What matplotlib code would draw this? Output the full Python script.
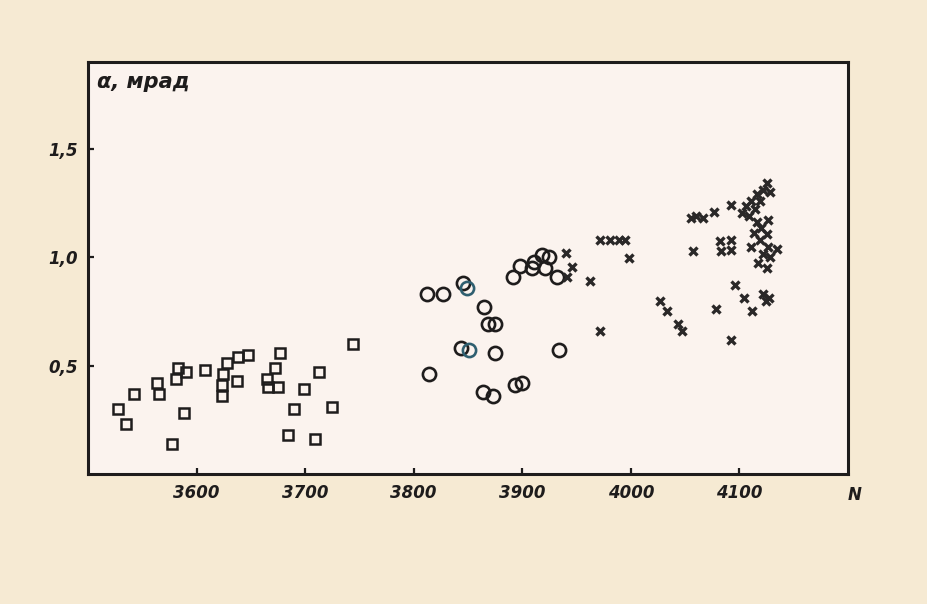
import matplotlib
matplotlib.use("Agg")
import matplotlib.pyplot as plt

# Angle alpha (mrad) versus N for three groups of measurements
squares_N = [3528, 3535, 3542, 3564, 3565, 3577, 3583, 3581, 3590, 3588,
             3608, 3628, 3624, 3623, 3623, 3638, 3647, 3637, 3665, 3666,
             3672, 3675, 3677, 3684, 3690, 3699, 3709, 3713, 3725, 3744]
squares_L = [0.30, 0.23, 0.37, 0.42, 0.37, 0.14, 0.49, 0.44, 0.47, 0.28,
             0.48, 0.51, 0.46, 0.41, 0.36, 0.54, 0.55, 0.43, 0.44, 0.40,
             0.49, 0.40, 0.56, 0.18, 0.30, 0.39, 0.16, 0.47, 0.31, 0.60]

circles_N = [3812, 3827, 3845, 3865, 3868, 3875, 3844, 3875, 3814, 3864,
             3873, 3893, 3900, 3934, 3891, 3898, 3909, 3911, 3918, 3925,
             3921, 3932]
circles_L = [0.83, 0.83, 0.88, 0.77, 0.69, 0.69, 0.58, 0.56, 0.46, 0.38,
             0.36, 0.41, 0.42, 0.57, 0.91, 0.96, 0.95, 0.98, 1.01, 1.00,
             0.95, 0.91]
# two circles printed slightly off-register in a bluish ink
circles_tint_N = [3849, 3851]
circles_tint_L = [0.86, 0.57]

crosses_N = [3940, 3946, 3941, 3962, 3972, 3981, 3989, 3995, 3998, 3972,
             4027, 4033, 4043, 4047, 4057, 4078, 4092, 4096, 4104, 4112,
             4122, 4127, 4124, 4082, 4092, 4083, 4092,
             4055, 4060, 4066, 4077, 4092,
             4125, 4122, 4128, 4116, 4111, 4119, 4106, 4114, 4102, 4109,
             4116, 4126, 4120, 4113, 4125, 4119, 4111, 4126, 4135, 4122,
             4128, 4117, 4125]
crosses_L = [1.02, 0.955, 0.91, 0.89, 1.08, 1.08, 1.08, 1.08, 0.995, 0.66,
             0.80, 0.75, 0.69, 0.66, 1.03, 0.76, 0.62, 0.87, 0.81, 0.75,
             0.83, 0.81, 0.80, 1.075, 1.08, 1.03, 1.035,
             1.18, 1.19, 1.18, 1.21, 1.24,
             1.34, 1.31, 1.30, 1.29, 1.26, 1.26, 1.235, 1.22, 1.205, 1.19,
             1.16, 1.17, 1.135, 1.11, 1.105, 1.08, 1.045, 1.045, 1.04, 1.015,
             1.00, 0.975, 0.95]

x_ticks = [3600, 3700, 3800, 3900, 4000, 4100]
y_ticks = [0.5, 1.0, 1.5]
y_tick_labels = ["0,5", "1,0", "1,5"]

ink = "#1e1c1c"

fig = plt.figure(figsize=(9.27, 6.04), dpi=100, facecolor="#f6ead3")
ax = fig.add_axes([0.0949, 0.2152, 0.8199, 0.6821], facecolor="#fbf3ee")

ax.plot(squares_N, squares_L, linestyle="none", marker="s", markersize=6.5,
        markerfacecolor="none", markeredgecolor=ink, markeredgewidth=1.8)
ax.plot(circles_N, circles_L, linestyle="none", marker="o", markersize=9.5,
        markerfacecolor="none", markeredgecolor=ink, markeredgewidth=1.9)
ax.plot(circles_tint_N, circles_tint_L, linestyle="none", marker="o",
        markersize=9.5, markerfacecolor="none", markeredgecolor="#2f5f70",
        markeredgewidth=1.9)
ax.plot(crosses_N, crosses_L, linestyle="none", marker="x", markersize=5.5,
        markeredgecolor="#2a2828", markeredgewidth=2.4)

ax.set_xlim(3500, 4200)
ax.set_ylim(0, 1.9)

for side in ax.spines.values():
    side.set_linewidth(2.2)
    side.set_color(ink)

tick_font = dict(family="DejaVu Sans", style="italic", weight="bold", size=12)
ax.set_xticks(x_ticks)
ax.set_xticklabels([str(t) for t in x_ticks], **tick_font, color=ink)
ax.set_yticks(y_ticks)
ax.set_yticklabels(y_tick_labels, **tick_font, color=ink)
ax.tick_params(direction="in", length=4, width=1.6, color=ink, pad=7)

ax.text(0.012, 0.975, "α, мрад", transform=ax.transAxes, ha="left", va="top",
        family="DejaVu Sans", style="italic", weight="bold", fontsize=15,
        color=ink)
ax.text(1.0, -0.028, "N", transform=ax.transAxes, ha="left", va="top",
        family="DejaVu Sans", style="italic", weight="bold", fontsize=12,
        color=ink)

fig.savefig("out.png", dpi=100, facecolor=fig.get_facecolor())
